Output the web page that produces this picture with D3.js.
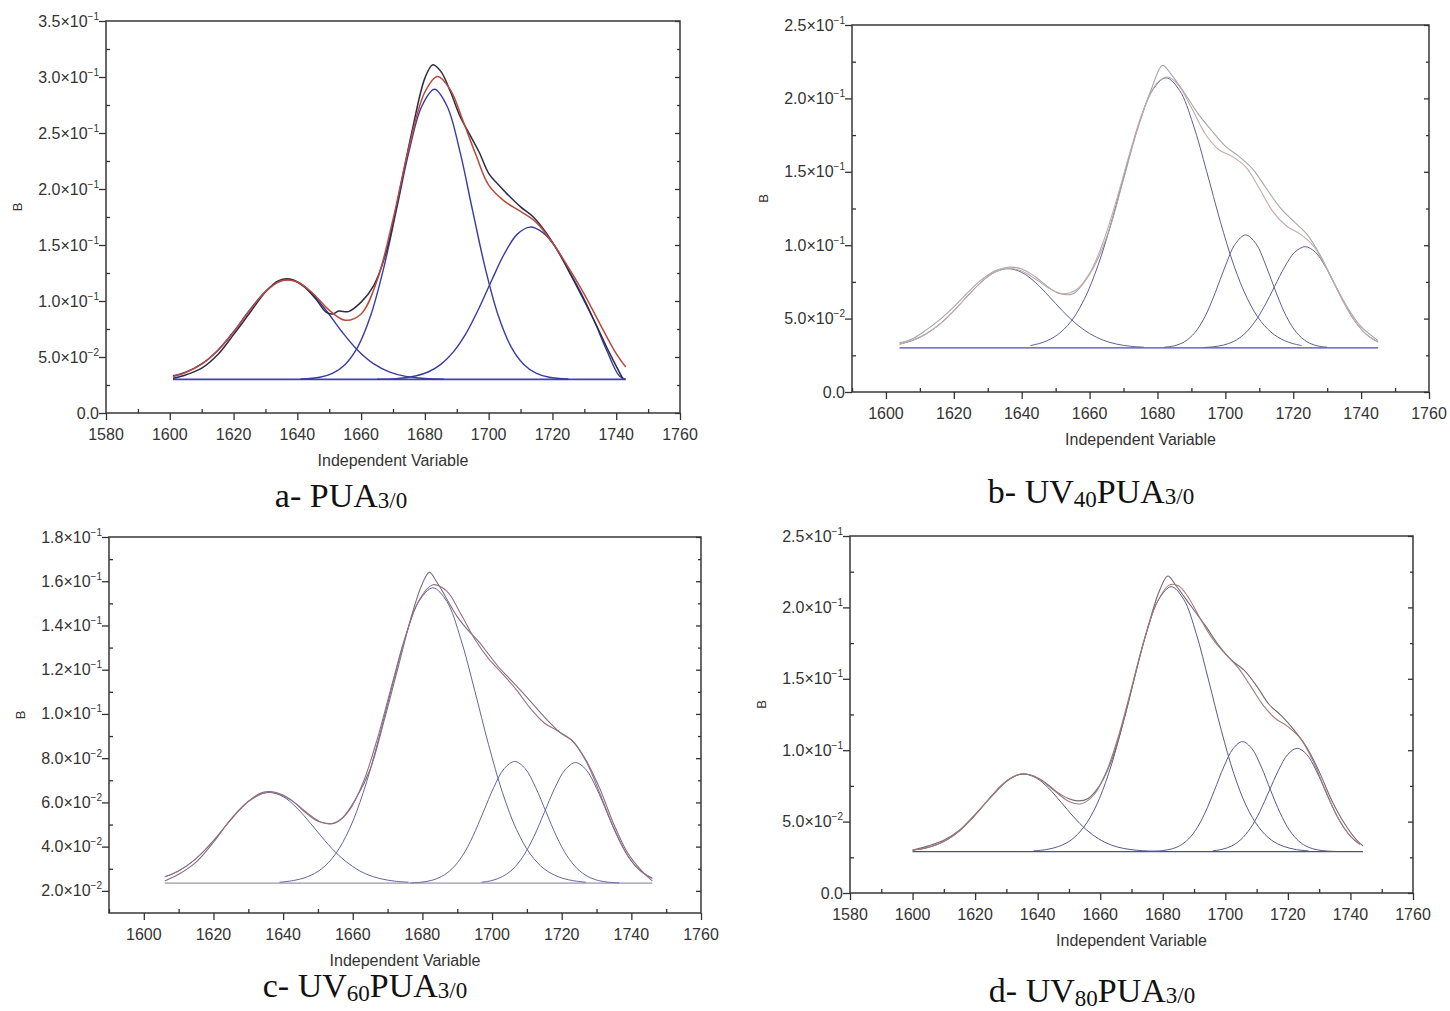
<!DOCTYPE html>
<html>
<head>
<meta charset="utf-8">
<script src="https://cdn.jsdelivr.net/npm/d3@7"></script>
<style>
  body { margin: 0; background: #fff; }
  text { font-family: "Liberation Sans", Arial, sans-serif; }
</style>
</head>
<body>
<svg width="1450" height="1011"></svg>
<script>
// ---- axis ticks / labels ----
var xTicksA = [1580, 1600, 1620, 1640, 1660, 1680, 1700, 1720, 1740, 1760];
var xTicksB = [1600, 1620, 1640, 1660, 1680, 1700, 1720, 1740, 1760];
var xMinorA = [1590, 1610, 1630, 1650, 1670, 1690, 1710, 1730, 1750];
var xMinorB = [1590, 1610, 1630, 1650, 1670, 1690, 1710, 1730, 1750];

var aYTicks = [0, 0.05, 0.10, 0.15, 0.20, 0.25, 0.30, 0.35];
var aYLabels = ["0.0", "5.0×10^-2", "1.0×10^-1", "1.5×10^-1", "2.0×10^-1", "2.5×10^-1", "3.0×10^-1", "3.5×10^-1"];
var aYMinor = [0.025, 0.075, 0.125, 0.175, 0.225, 0.275, 0.325];

var bYTicks = [0, 0.05, 0.10, 0.15, 0.20, 0.25];
var bYLabels = ["0.0", "5.0×10^-2", "1.0×10^-1", "1.5×10^-1", "2.0×10^-1", "2.5×10^-1"];
var bYMinor = [0.025, 0.075, 0.125, 0.175, 0.225];

var cYTicks = [0.02, 0.04, 0.06, 0.08, 0.10, 0.12, 0.14, 0.16, 0.18];
var cYLabels = ["2.0×10^-2", "4.0×10^-2", "6.0×10^-2", "8.0×10^-2", "1.0×10^-1", "1.2×10^-1", "1.4×10^-1", "1.6×10^-1", "1.8×10^-1"];
var cYMinor = [0.03, 0.05, 0.07, 0.09, 0.11, 0.13, 0.15, 0.17];

// ---- panel a: PUA3/0 ----
var aBase = [[1601, 0.030], [1743, 0.030]];
var aPeak1 = [[1601,0.0333],[1605,0.0365],[1610,0.0439],[1615,0.0559],[1620,0.0725],[1625,0.0917],[1630,0.1085],[1634,0.117],[1637,0.119],[1640,0.117],[1644,0.1085],[1649,0.0917],[1654,0.0725],[1659,0.0559],[1664,0.0439],[1669,0.0365],[1674,0.0327],[1680,0.0308],[1686,0.0301]];
var aPeak2 = [[1641,0.0303],[1647,0.0319],[1651,0.0354],[1655,0.0434],[1659,0.0593],[1663,0.087],[1667,0.1284],[1671,0.1802],[1675,0.2333],[1679,0.2737],[1683,0.289],[1687,0.2737],[1691,0.2333],[1695,0.1802],[1699,0.1284],[1703,0.087],[1707,0.0593],[1711,0.0434],[1715,0.0354],[1719,0.0319],[1725,0.0303]];
var aPeak3 = [[1665,0.0301],[1671,0.0307],[1677,0.033],[1681,0.0366],[1685,0.0434],[1689,0.0548],[1693,0.0716],[1697,0.0938],[1701,0.1188],[1705,0.1426],[1709,0.1597],[1713,0.166],[1717,0.161],[1721,0.148],[1725,0.128],[1729,0.107],[1733,0.083],[1737,0.056],[1741,0.033],[1743,0.030]];
var aFit = [[1601,0.0325],[1605,0.0362],[1610,0.0436],[1615,0.0556],[1620,0.0722],[1625,0.0915],[1630,0.1083],[1635,0.118],[1640,0.117],[1645,0.1065],[1650,0.0918],[1655,0.0828],[1660,0.0884],[1665,0.1182],[1670,0.1728],[1675,0.2374],[1680,0.2866],[1684,0.3005],[1688,0.2885],[1692,0.2605],[1696,0.2305],[1700,0.2035],[1705,0.189],[1710,0.18],[1715,0.17],[1720,0.152],[1725,0.13],[1730,0.106],[1735,0.079],[1740,0.053],[1743,0.041]];
var aData = [[1601,0.031],[1605,0.034],[1610,0.040],[1615,0.052],[1620,0.070],[1625,0.089],[1630,0.108],[1634,0.118],[1638,0.1195],[1642,0.113],[1646,0.101],[1649,0.090],[1651,0.0885],[1653,0.091],[1656,0.0905],[1660,0.099],[1664,0.114],[1668,0.145],[1672,0.197],[1676,0.252],[1680,0.299],[1682.5,0.311],[1685,0.305],[1688,0.287],[1691,0.265],[1694,0.249],[1697,0.233],[1700,0.214],[1703,0.204],[1706,0.195],[1710,0.184],[1714,0.175],[1718,0.161],[1722,0.143],[1726,0.122],[1730,0.100],[1734,0.077],[1738,0.053],[1742,0.031]];

// ---- panel b: UV40PUA3/0 ----
var bBase = [[1604, 0.030], [1745, 0.030]];
var bPeak1 = [[1604,0.0326],[1608,0.0353],[1612,0.0398],[1616,0.0465],[1620,0.0553],[1624,0.0653],[1628,0.0747],[1632,0.0815],[1636,0.084],[1640,0.0815],[1644,0.0747],[1648,0.0653],[1652,0.0553],[1656,0.0465],[1660,0.0398],[1664,0.0353],[1668,0.0326],[1672,0.0312],[1676,0.0305]];
var bPeak2 = [[1642.5,0.0316],[1646.5,0.034],[1650.5,0.0389],[1654.5,0.048],[1658.5,0.0635],[1662.5,0.0863],[1666.5,0.1163],[1670.5,0.1502],[1674.5,0.1824],[1678.5,0.2055],[1682.5,0.214],[1686.5,0.2055],[1690.5,0.1824],[1694.5,0.1502],[1698.5,0.1163],[1702.5,0.0863],[1706.5,0.0635],[1710.5,0.048],[1714.5,0.0389],[1718.5,0.034],[1722.5,0.0316]];
var bPeak3 = [[1682,0.0305],[1685,0.0315],[1688,0.0343],[1691,0.0404],[1694,0.0514],[1697,0.0675],[1700,0.0859],[1703,0.1011],[1706,0.107],[1709,0.1011],[1712,0.0859],[1715,0.0675],[1718,0.0514],[1721,0.0404],[1724,0.0343],[1727,0.0315],[1730,0.0305]];
var bPeak4 = [[1693.5,0.0303],[1696.5,0.0308],[1699.5,0.032],[1702.5,0.0345],[1705.5,0.0393],[1708.5,0.0472],[1711.5,0.0584],[1714.5,0.0719],[1717.5,0.0853],[1720.5,0.0953],[1723.5,0.099],[1726.5,0.0953],[1729.5,0.0853],[1732.5,0.0719],[1735.5,0.0584],[1738.5,0.0472],[1741.5,0.0393],[1745,0.034]];
var bFit = [[1604,0.0326],[1610,0.0373],[1616,0.0465],[1620,0.0553],[1624,0.0653],[1628,0.0747],[1632,0.0815],[1636,0.0843],[1640,0.0824],[1644,0.077],[1648,0.0707],[1652,0.067],[1656,0.0695],[1660,0.0809],[1664,0.1021],[1668,0.1314],[1672,0.164],[1676,0.1929],[1680,0.2108],[1683,0.2146],[1686,0.2096],[1690,0.1938],[1694,0.1761],[1698,0.1652],[1702,0.1605],[1706,0.1533],[1710,0.1388],[1714,0.1229],[1718,0.1131],[1722,0.1077],[1726,0.0993],[1730,0.0836],[1734,0.0649],[1738,0.0488],[1742,0.0383],[1745,0.034]];
var bData = [[1604,0.0335],[1608,0.0365],[1612,0.0425],[1616,0.0495],[1620,0.058],[1624,0.0675],[1628,0.0762],[1632,0.0825],[1636,0.085],[1640,0.0838],[1644,0.0785],[1648,0.0712],[1651,0.0672],[1655,0.0668],[1658,0.0735],[1662,0.0885],[1666,0.112],[1670,0.145],[1674,0.178],[1678,0.205],[1681.5,0.2225],[1684,0.2165],[1688,0.2035],[1692,0.1895],[1696,0.178],[1700,0.1675],[1704,0.1605],[1708,0.152],[1712,0.139],[1716,0.126],[1720,0.1165],[1724,0.1075],[1728,0.093],[1732,0.0745],[1736,0.0575],[1740,0.0445],[1745,0.035]];

// ---- panel c: UV60PUA3/0 ----
var cBase = [[1606, 0.0235], [1746, 0.0235]];
var cPeak1 = [[1606,0.0264],[1608,0.0275],[1612,0.031],[1616,0.036],[1620,0.0427],[1624,0.0503],[1628,0.0574],[1632,0.0626],[1636,0.0645],[1640,0.0626],[1644,0.0574],[1648,0.0503],[1652,0.0427],[1656,0.036],[1660,0.031],[1664,0.0275],[1668,0.0255],[1672,0.0244],[1676,0.0239]];
var cPeak2 = [[1639,0.0239],[1643,0.0247],[1647,0.0264],[1651,0.0299],[1655,0.0366],[1659,0.0478],[1663,0.0644],[1667,0.0861],[1671,0.1107],[1675,0.134],[1679,0.1509],[1683,0.157],[1687,0.1509],[1691,0.134],[1695,0.1107],[1699,0.0861],[1703,0.0644],[1707,0.0478],[1711,0.0366],[1715,0.0299],[1719,0.0264],[1723,0.0247],[1727,0.0239]];
var cPeak3 = [[1676.5,0.0236],[1679.5,0.0239],[1682.5,0.0247],[1685.5,0.0265],[1688.5,0.03],[1691.5,0.0359],[1694.5,0.0447],[1697.5,0.0557],[1700.5,0.0668],[1703.5,0.0753],[1706.5,0.0785],[1709.5,0.0753],[1712.5,0.0668],[1715.5,0.0557],[1718.5,0.0447],[1721.5,0.0359],[1724.5,0.03],[1727.5,0.0265],[1730.5,0.0247],[1733.5,0.0239],[1736.5,0.0236]];
var cPeak4 = [[1697,0.0239],[1700,0.0247],[1703,0.0265],[1706,0.0299],[1709,0.0358],[1712,0.0445],[1715,0.0554],[1718,0.0664],[1721,0.0748],[1724,0.078],[1727,0.0748],[1730,0.0664],[1733,0.0554],[1736,0.0445],[1739,0.0358],[1742,0.0299],[1746,0.0257]];
var cFit = [[1606,0.0264],[1610,0.029],[1615,0.0346],[1620,0.0427],[1625,0.0522],[1630,0.0604],[1636,0.0647],[1642,0.0613],[1647,0.0551],[1651,0.051],[1655,0.0507],[1659,0.0564],[1663,0.0691],[1667,0.0885],[1671,0.1118],[1675,0.1345],[1679,0.1513],[1683,0.1584],[1687,0.1555],[1691,0.1453],[1695,0.1339],[1699,0.125],[1703,0.1181],[1707,0.1109],[1711,0.1025],[1715,0.0959],[1719,0.0922],[1723,0.0879],[1727,0.0786],[1731,0.0639],[1735,0.0483],[1739,0.0358],[1743,0.0285],[1746,0.0257]];
var cData = [[1606,0.0245],[1610,0.0275],[1615,0.033],[1620,0.042],[1625,0.0525],[1630,0.0605],[1634,0.0645],[1638,0.0645],[1642,0.0615],[1646,0.056],[1650,0.0515],[1654,0.0505],[1657,0.053],[1661,0.062],[1665,0.075],[1669,0.097],[1673,0.121],[1677,0.145],[1680,0.159],[1682,0.164],[1684,0.16],[1687,0.152],[1690,0.144],[1693,0.138],[1696,0.133],[1699,0.127],[1702,0.121],[1705,0.116],[1708,0.111],[1712,0.104],[1716,0.097],[1720,0.091],[1723,0.088],[1727,0.079],[1731,0.066],[1735,0.05],[1739,0.037],[1743,0.029],[1746,0.0245]];

// ---- panel d: UV80PUA3/0 ----
var dBase = [[1600, 0.029], [1744, 0.029]];
var dPeak1 = [[1600,0.030],[1603.5,0.0312],[1607.5,0.0336],[1611.5,0.0379],[1615.5,0.0444],[1619.5,0.0533],[1623.5,0.0635],[1627.5,0.0734],[1631.5,0.0806],[1635.5,0.0833],[1639.5,0.0806],[1643.5,0.0734],[1647.5,0.0635],[1651.5,0.0533],[1655.5,0.0444],[1659.5,0.0379],[1663.5,0.0336],[1667.5,0.0312],[1671.5,0.03],[1675.5,0.0294],[1679.5,0.0291]];
var dPeak2 = [[1638.7,0.0295],[1642.7,0.0304],[1646.7,0.0326],[1650.7,0.0371],[1654.7,0.046],[1658.7,0.061],[1662.7,0.0837],[1666.7,0.114],[1670.7,0.1485],[1674.7,0.1816],[1678.7,0.2056],[1682.7,0.2145],[1686.7,0.2056],[1690.7,0.1816],[1694.7,0.1485],[1698.7,0.114],[1702.7,0.0837],[1706.7,0.061],[1710.7,0.046],[1714.7,0.0371],[1718.7,0.0326],[1722.7,0.0304],[1726.7,0.0295]];
var dPeak3 = [[1675.5,0.0291],[1678.5,0.0294],[1681.5,0.0302],[1684.5,0.0321],[1687.5,0.0363],[1690.5,0.044],[1693.5,0.0561],[1696.5,0.0718],[1699.5,0.0883],[1702.5,0.1011],[1705.5,0.106],[1708.5,0.1011],[1711.5,0.0883],[1714.5,0.0718],[1717.5,0.0561],[1720.5,0.044],[1723.5,0.0363],[1726.5,0.0321],[1729.5,0.0302],[1732.5,0.0294],[1735.5,0.0291]];
var dPeak4 = [[1696,0.0296],[1699,0.0306],[1702,0.0329],[1705,0.0375],[1708,0.0453],[1711,0.0569],[1714,0.0714],[1717,0.086],[1720,0.0971],[1723,0.1013],[1726,0.0971],[1729,0.086],[1732,0.0714],[1735,0.0569],[1738,0.0453],[1741,0.0375],[1743,0.0341]];
var dFit = [[1600,0.030],[1605,0.0319],[1610,0.036],[1615,0.0434],[1620,0.0545],[1625,0.0674],[1630,0.0784],[1635,0.0835],[1640,0.0806],[1645,0.0723],[1650,0.0641],[1654,0.0625],[1658,0.0688],[1662,0.0851],[1666,0.1111],[1670,0.1437],[1674,0.1769],[1678,0.2027],[1682,0.2156],[1685,0.2151],[1688,0.2076],[1692,0.1921],[1696,0.1777],[1700,0.1674],[1704,0.158],[1708,0.1452],[1712,0.1317],[1716,0.1222],[1720,0.1165],[1724,0.1082],[1728,0.0927],[1732,0.0719],[1736,0.0528],[1740,0.0397],[1743,0.0341]];
var dData = [[1600,0.030],[1605,0.033],[1610,0.037],[1615,0.044],[1620,0.055],[1625,0.067],[1630,0.078],[1634,0.083],[1638,0.0825],[1642,0.078],[1646,0.071],[1650,0.066],[1653,0.0645],[1656,0.066],[1660,0.076],[1664,0.095],[1668,0.125],[1672,0.160],[1676,0.192],[1679,0.212],[1681.6,0.222],[1684,0.216],[1687,0.207],[1690,0.198],[1694,0.186],[1698,0.173],[1702,0.163],[1706,0.156],[1710,0.145],[1714,0.132],[1718,0.124],[1722,0.114],[1726,0.102],[1730,0.085],[1734,0.065],[1738,0.049],[1742,0.037],[1744,0.033]];

// captions: [text, isSubscript]
var captionA = [["a- PUA", false], ["3/0", true]];
var captionB = [["b- UV", false], ["40", true], ["PUA", false], ["3/0", true]];
var captionC = [["c- UV", false], ["60", true], ["PUA", false], ["3/0", true]];
var captionD = [["d- UV", false], ["80", true], ["PUA", false], ["3/0", true]];

var panels = [
  {xDomain:[1580,1760], yDomain:[0,0.35], xTicks:xTicksA, xMinor:xMinorA, yTicks:aYTicks, yLabels:aYLabels, yMinor:aYMinor,
   base:aBase, peaks:[aPeak1,aPeak2,aPeak3], fit:aFit, data:aData, caption:captionA,
   left:106, right:680, top:21, bottom:413, capX:341, capY:507,
   col:{peak:"#3a3aa4", pw:1.4, base:"#3f3fc0", bw:1.6, fit:"#b84a3c", fw:1.5, data:"#2c2c44", dw:1.5}},
  {xDomain:[1590,1760], yDomain:[0,0.25], xTicks:xTicksB, xMinor:xMinorB, yTicks:bYTicks, yLabels:bYLabels, yMinor:bYMinor,
   base:bBase, peaks:[bPeak1,bPeak2,bPeak3,bPeak4], fit:bFit, data:bData, caption:captionB,
   left:852, right:1429, top:25, bottom:392, capX:1091, capY:503,
   col:{peak:"#5e5e98", pw:1, base:"#4c4cab", bw:1.3, fit:"#c4aaaa", fw:1.1, data:"#a6a6a6", dw:1.1}},
  {xDomain:[1590,1760], yDomain:[0.01,0.18], xTicks:xTicksB, xMinor:xMinorB, yTicks:cYTicks, yLabels:cYLabels, yMinor:cYMinor,
   base:cBase, peaks:[cPeak1,cPeak2,cPeak3,cPeak4], fit:cFit, data:cData, caption:captionC,
   left:109, right:701, top:537, bottom:913, capX:365, capY:997,
   col:{peak:"#6464a2", pw:1, base:"#b4b4c8", bw:1.6, fit:"#957080", fw:1.1, data:"#806f80", dw:1.1}},
  {xDomain:[1580,1760], yDomain:[0,0.25], xTicks:xTicksA, xMinor:xMinorA, yTicks:bYTicks, yLabels:bYLabels, yMinor:bYMinor,
   base:dBase, peaks:[dPeak1,dPeak2,dPeak3,dPeak4], fit:dFit, data:dData, caption:captionD,
   left:850, right:1413, top:536, bottom:893, capX:1092, capY:1002,
   col:{peak:"#58588f", pw:1, base:"#4d4d8f", bw:1.2, fit:"#a07c78", fw:1.1, data:"#786870", dw:1.1}}
];

var svg = d3.select("svg");

function styleAxis(sel) {
  sel.selectAll("line").attr("stroke", "#333").attr("stroke-width", 1.3);
  sel.selectAll("path").remove();
}

panels.forEach(function(p) {
  var x = d3.scaleLinear().domain(p.xDomain).range([p.left, p.right]);
  var y = d3.scaleLinear().domain(p.yDomain).range([p.bottom, p.top]);
  var g = svg.append("g");

  // frame
  g.append("rect")
    .attr("x", p.left).attr("y", p.top)
    .attr("width", p.right - p.left).attr("height", p.bottom - p.top)
    .attr("fill", "none").attr("stroke", "#444").attr("stroke-width", 1.6);

  // bottom axis, major out, minor in
  g.append("g").attr("transform", "translate(0," + p.bottom + ")")
    .call(d3.axisBottom(x).tickValues(p.xTicks).tickSize(7).tickFormat(""))
    .call(styleAxis);
  g.append("g").attr("transform", "translate(0," + p.bottom + ")")
    .call(d3.axisBottom(x).tickValues(p.xMinor).tickSize(-4).tickFormat(""))
    .call(styleAxis);

  // left axis
  g.append("g").attr("transform", "translate(" + p.left + ",0)")
    .call(d3.axisLeft(y).tickValues(p.yTicks).tickSize(7).tickFormat(""))
    .call(styleAxis);
  g.append("g").attr("transform", "translate(" + p.left + ",0)")
    .call(d3.axisLeft(y).tickValues(p.yMinor).tickSize(-4).tickFormat(""))
    .call(styleAxis);

  // right axis ticks inward
  g.append("g").attr("transform", "translate(" + p.right + ",0)")
    .call(d3.axisLeft(y).tickValues(p.yTicks).tickSize(5).tickFormat(""))
    .call(styleAxis);
  g.append("g").attr("transform", "translate(" + p.right + ",0)")
    .call(d3.axisLeft(y).tickValues(p.yMinor).tickSize(3).tickFormat(""))
    .call(styleAxis);

  // x tick labels
  g.selectAll(".xl").data(p.xTicks).enter().append("text")
    .attr("x", function(d){ return x(d); })
    .attr("y", p.bottom + 27)
    .attr("text-anchor", "middle")
    .attr("font-size", 16).attr("fill", "#333")
    .text(function(d){ return d; });

  // y tick labels with superscript exponent
  p.yTicks.forEach(function(v, i) {
    var parts = p.yLabels[i].split("^");
    var t = g.append("text")
      .attr("x", p.left - 7).attr("y", y(v) + 5.5)
      .attr("text-anchor", "end")
      .attr("font-size", 16).attr("fill", "#333");
    t.append("tspan").text(parts[0]);
    if (parts.length > 1) {
      t.append("tspan").attr("dy", -7).attr("font-size", 10).text(parts[1].replace("-", "\u2212"));
    }
  });

  // axis titles
  g.append("text")
    .attr("x", (p.left + p.right) / 2).attr("y", p.bottom + 53)
    .attr("text-anchor", "middle").attr("font-size", 16).attr("fill", "#333")
    .text("Independent Variable");
  g.append("text")
    .attr("transform", "translate(" + (p.left - 84) + "," + ((p.top + p.bottom) / 2 - 10) + ") rotate(-90)")
    .attr("text-anchor", "middle").attr("font-size", 13).attr("fill", "#333")
    .text("B");

  var line = d3.line()
    .x(function(d){ return x(d[0]); })
    .y(function(d){ return y(d[1]); })
    .curve(d3.curveCatmullRom.alpha(0.5));

  g.append("path").datum(p.base).attr("d", line)
    .attr("fill", "none").attr("stroke", p.col.base).attr("stroke-width", p.col.bw);

  g.selectAll(".peak").data(p.peaks).enter().append("path")
    .attr("d", line)
    .attr("fill", "none").attr("stroke", p.col.peak).attr("stroke-width", p.col.pw);

  g.append("path").datum(p.data).attr("d", line)
    .attr("fill", "none").attr("stroke", p.col.data).attr("stroke-width", p.col.dw);
  g.append("path").datum(p.fit).attr("d", line)
    .attr("fill", "none").attr("stroke", p.col.fit).attr("stroke-width", p.col.fw);

  // caption
  var cap = svg.append("text")
    .attr("x", p.capX).attr("y", p.capY)
    .attr("text-anchor", "middle")
    .style("font-family", "'Liberation Serif', 'Times New Roman', serif")
    .attr("font-size", 34).attr("fill", "#111");
  p.caption.forEach(function(c, i) {
    var ts = cap.append("tspan").text(c[0]);
    if (c[1]) {
      ts.attr("font-size", 23).attr("dy", c[0] === "3/0" ? 1 : 4);
    } else if (i > 0) {
      ts.attr("dy", -4);
    }
  });
});
</script>
</body>
</html>
